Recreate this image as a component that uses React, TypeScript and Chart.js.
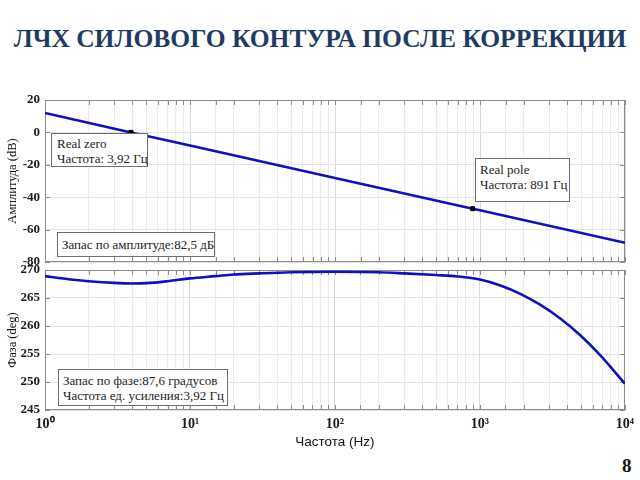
import React, { useEffect, useRef } from 'react';
import { Chart, registerables } from 'chart.js';

Chart.register(...registerables);

// ---- data ----
const freqMag = [1, 3.92, 10, 100, 891, 1000, 10000];
const magDb = [12.0, 0, -8.1, -28.1, -47.1, -48.1, -68.1];

const freqPhase = [1, 1.5, 2, 3, 4, 5, 7, 10, 15, 20, 30, 50, 100, 200, 300, 500, 700, 1000, 1400, 1900, 2600, 3600, 4900, 6700, 10000];
const phaseDeg = [268.9, 268.3, 268.0, 267.7, 267.6, 267.65, 268.0, 268.5, 268.9, 269.2, 269.4, 269.6, 269.7, 269.6, 269.4, 269.1, 268.85, 268.3, 267.2, 265.75, 263.8, 261.3, 258.4, 254.9, 249.7];

const markerFreq = [3.92, 891];
const markerMag = [0, -47.1];

const magRange = [-80, 20];
const magStep = 20;
const phaseRange = [245, 270];
const phaseStep = 5;
const superDigits = ['⁰', '¹', '²', '³', '⁴'];

const titleText = 'ЛЧХ СИЛОВОГО КОНТУРА ПОСЛЕ КОРРЕКЦИИ';
const magAxisTitle = 'Амплитуда (dB)';
const phaseAxisTitle = 'Фаза (deg)';
const freqAxisTitle = 'Частота (Hz)';

const decadeLabel = (v: number) => {
  const l = Math.log10(v);
  const e = Math.round(l);
  if (Math.abs(l - e) < 1e-9 && e >= 0 && e < superDigits.length) return '10' + superDigits[e];
  return '';
};

const isDecade = (v: number) => {
  const l = Math.log10(v);
  return Math.abs(l - Math.round(l)) < 1e-9;
};

const boxPlugin = {
  id: 'boxTicks',
  beforeDatasetsDraw(chart: any) {
    const { ctx, chartArea: a, scales } = chart;
    const x = scales.x;
    const y = scales.y;
    ctx.save();
    ctx.strokeStyle = '#8c8c8c';
    ctx.lineWidth = 1;
    ctx.beginPath();
    x.ticks.forEach((t: any) => {
      const px = Math.round(x.getPixelForValue(t.value)) + 0.5;
      ctx.moveTo(px, a.top);
      ctx.lineTo(px, a.top + 5);
      ctx.moveTo(px, a.bottom);
      ctx.lineTo(px, a.bottom - 5);
    });
    y.ticks.forEach((t: any) => {
      const py = Math.round(y.getPixelForValue(t.value)) + 0.5;
      ctx.moveTo(a.left, py);
      ctx.lineTo(a.left + 5, py);
      ctx.moveTo(a.right, py);
      ctx.lineTo(a.right - 5, py);
    });
    ctx.stroke();
    ctx.strokeRect(Math.round(a.left) + 0.5, Math.round(a.top) + 0.5, Math.round(a.width) - 1, Math.round(a.height) - 1);
    ctx.restore();
  },
};

const tickFont = { family: '"Liberation Serif", "Times New Roman", serif', size: 13, weight: 'bold' as const };
const titleFont = { family: '"Liberation Serif", "Times New Roman", serif', size: 12.5 };

function makeXScale(showLabels: boolean) {
  return {
    type: 'logarithmic' as const,
    min: 1,
    max: 10000,
    afterFit: (s: any) => {
      s.height = showLabels ? 40 : 0;
    },
    border: { display: false },
    grid: {
      drawTicks: false,
      color: (c: any) => (c.tick && isDecade(c.tick.value) ? '#d9d9d9' : '#ebebeb'),
      lineWidth: 1,
    },
    ticks: {
      display: showLabels,
      autoSkip: false,
      maxRotation: 0,
      padding: 6,
      color: '#1a1a1a',
      font: { ...tickFont, size: 14 },
      callback: (v: any) => decadeLabel(Number(v)),
    },
    title: {
      display: showLabels,
      text: freqAxisTitle,
      color: '#111',
      font: { family: '"Liberation Sans", Arial, sans-serif', size: 13.5 },
      padding: { top: 0, bottom: 0 },
    },
  };
}

function makeYScale(range: number[], step: number, title: string) {
  return {
    type: 'linear' as const,
    min: range[0],
    max: range[1],
    afterFit: (s: any) => {
      s.width = 45;
    },
    border: { display: false },
    grid: { drawTicks: false, color: '#e3e3e3', lineWidth: 1 },
    ticks: { stepSize: step, padding: 5, color: '#1a1a1a', font: tickFont },
    title: { display: true, text: title, color: '#111', font: titleFont, padding: { top: 5, bottom: 0 } },
  };
}

function MagChart() {
  const ref = useRef<HTMLCanvasElement>(null);
  useEffect(() => {
    const chart = new Chart(ref.current as HTMLCanvasElement, {
      type: 'line',
      data: {
        datasets: [
          {
            type: 'scatter' as any,
            data: markerFreq.map((f, i) => ({ x: f, y: markerMag[i] })),
            pointStyle: 'rect',
            pointRadius: 2.8,
            backgroundColor: '#000',
            borderColor: '#000',
            showLine: false,
            order: 0,
          } as any,
          {
            data: freqMag.map((f, i) => ({ x: f, y: magDb[i] })),
            borderColor: '#1010c0',
            borderWidth: 2.6,
            pointRadius: 0,
            tension: 0,
            order: 1,
          },
        ],
      },
      options: {
        responsive: false,
        animation: false,
        layout: { padding: { top: 15, bottom: 13, left: 0, right: 15 } },
        plugins: { legend: { display: false }, tooltip: { enabled: false } },
        scales: { x: makeXScale(false), y: makeYScale(magRange, magStep, magAxisTitle) } as any,
      },
      plugins: [boxPlugin],
    });
    return () => chart.destroy();
  }, []);
  return <canvas ref={ref} width={640} height={190} style={{ width: 640, height: 190, display: 'block' }} />;
}

function PhaseChart() {
  const ref = useRef<HTMLCanvasElement>(null);
  useEffect(() => {
    const chart = new Chart(ref.current as HTMLCanvasElement, {
      type: 'line',
      data: {
        datasets: [
          {
            data: freqPhase.map((f, i) => ({ x: f, y: phaseDeg[i] })),
            borderColor: '#1010c0',
            borderWidth: 2.6,
            pointRadius: 0,
            cubicInterpolationMode: 'monotone',
          },
        ],
      },
      options: {
        responsive: false,
        animation: false,
        layout: { padding: { top: 15, bottom: 0, left: 0, right: 15 } },
        plugins: { legend: { display: false }, tooltip: { enabled: false } },
        scales: { x: makeXScale(true), y: makeYScale(phaseRange, phaseStep, phaseAxisTitle) } as any,
      },
      plugins: [boxPlugin],
    });
    return () => chart.destroy();
  }, []);
  return <canvas ref={ref} width={640} height={195} style={{ width: 640, height: 195, display: 'block' }} />;
}

const boxStyle: React.CSSProperties = {
  position: 'absolute',
  background: '#fff',
  border: '1.5px solid #6e6e6e',
  fontFamily: '"Liberation Serif", "Times New Roman", serif',
  fontSize: 13,
  lineHeight: '15px',
  color: '#222',
  boxSizing: 'border-box',
  whiteSpace: 'nowrap',
};

export default function App() {
  return (
    <div style={{ position: 'fixed', left: 0, top: 0, width: 640, height: 480, background: '#fff', overflow: 'hidden' }}>
      <div
        style={{
          position: 'absolute',
          left: 0,
          top: 24,
          width: 640,
          textAlign: 'center',
          fontFamily: '"Liberation Serif", "Times New Roman", serif',
          fontWeight: 'bold',
          fontSize: 25.5,
          lineHeight: '30px',
          color: '#1f3b64',
          whiteSpace: 'nowrap',
        }}
      >
        {titleText}
      </div>
      <div style={{ position: 'absolute', left: 0, top: 85, width: 640, height: 190 }}>
        <MagChart />
      </div>
      <div style={{ position: 'absolute', left: 0, top: 255, width: 640, height: 195 }}>
        <PhaseChart />
      </div>
      <div style={{ ...boxStyle, left: 51, top: 133, width: 97, height: 34, padding: '2px 0 0 5px' }}>
        Real zero<br />Частота: 3,92 Гц
      </div>
      <div style={{ ...boxStyle, left: 475, top: 158, width: 95, height: 44, padding: '3px 0 0 4px' }}>
        Real pole<br />Частота: 891 Гц
      </div>
      <div style={{ ...boxStyle, left: 57, top: 232, width: 158, height: 25, padding: '4px 0 0 4px' }}>
        Запас по амплитуде:82,5 дБ
      </div>
      <div style={{ ...boxStyle, left: 58, top: 369, width: 170, height: 37, padding: '3px 0 0 4px' }}>
        Запас по фазе:87,6 градусов<br />Частота ед. усиления:3,92 Гц
      </div>
      <div
        style={{
          position: 'absolute',
          left: 622,
          top: 455,
          fontFamily: '"Liberation Serif", "Times New Roman", serif',
          fontWeight: 'bold',
          fontSize: 19,
          color: '#111',
        }}
      >
        8
      </div>
    </div>
  );
}
